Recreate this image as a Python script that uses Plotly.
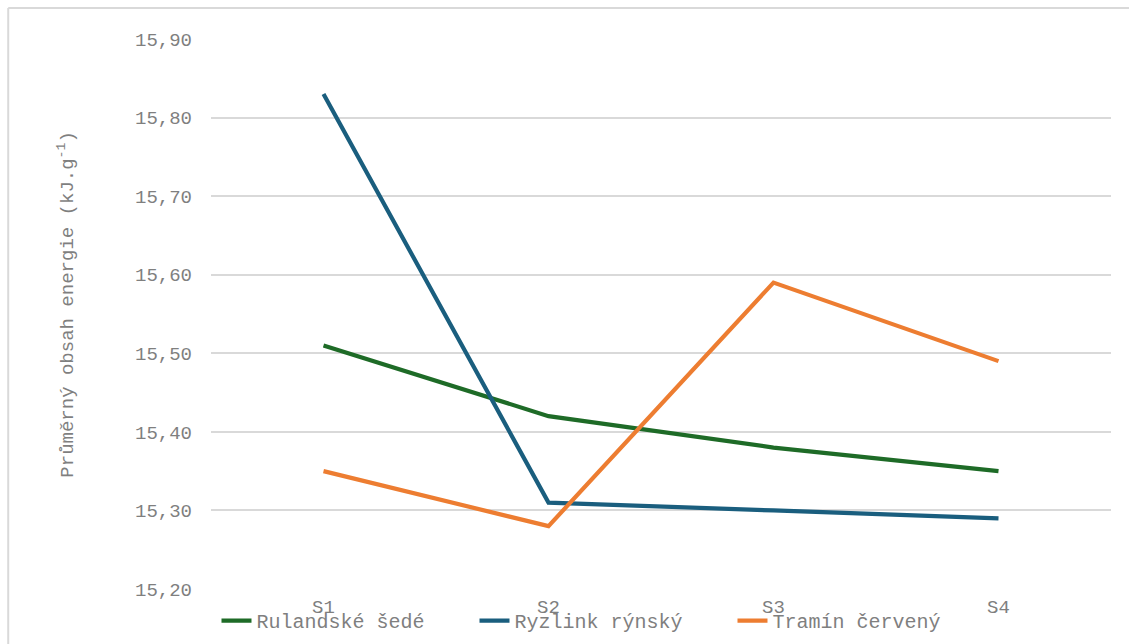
import plotly.graph_objects as go

categories = ["S1", "S2", "S3", "S4"]
rulandske = [15.51, 15.42, 15.38, 15.35]
ryzlink = [15.83, 15.31, 15.30, 15.29]
tramin = [15.35, 15.28, 15.59, 15.49]
y_ticks = [15.20, 15.30, 15.40, 15.50, 15.60, 15.70, 15.80, 15.90]
y_labels = ["15,20", "15,30", "15,40", "15,50", "15,60", "15,70", "15,80", "15,90"]

FONT = "Liberation Mono, Courier New, monospace"
GRAY = "#7f7f7f"

# plot area in page coords: x 210.5-1111.5, y 39-589
PL, PR, PT, PB = 210.5, 1111.5, 39, 589
W, H = 1129, 644
PW, PH = PR - PL, PB - PT

fig = go.Figure()
for name, vals, col in [
    ("Rulandské šedé", rulandske, "#1e6b27"),
    ("Ryzlink rýnský", ryzlink, "#1a5e7e"),
    ("Tramín červený", tramin, "#ed7d31"),
]:
    fig.add_trace(go.Scatter(x=categories, y=vals, name=name, mode="lines",
                             line=dict(color=col, width=4.2)))

bx = (7.5 - PL) / PW
by = (PB - 8) / PH
fig.update_layout(
    width=W, height=H,
    margin=dict(l=PL, r=W - PR, t=PT, b=H - PB, autoexpand=False),
    paper_bgcolor="white", plot_bgcolor="white",
    font=dict(family=FONT, size=19, color=GRAY),
    showlegend=True,
    legend=dict(orientation="h", x=(216 - PL) / PW, xanchor="left",
                y=-0.022, yanchor="top",
                font=dict(family=FONT, size=20, color=GRAY),
                bgcolor="rgba(0,0,0,0)", entrywidth=213, entrywidthmode="pixels",
                tracegroupgap=0),
    xaxis=dict(type="category", range=[-0.5, 3.5], showgrid=False, zeroline=False,
               showline=False, ticks="", ticklabelstandoff=4,
               tickfont=dict(family=FONT, size=19, color=GRAY)),
    yaxis=dict(range=[15.20, 15.90], tickvals=y_ticks, ticktext=y_labels,
               showgrid=True, gridcolor="#d9d9d9", gridwidth=1.5, zeroline=False,
               showline=False, ticks="", ticklabelstandoff=18,
               tickfont=dict(family=FONT, size=19, color=GRAY)),
    shapes=[
        dict(type="line", xref="paper", yref="paper", x0=bx, x1=1.3, y0=by, y1=by,
             line=dict(color="#d9d9d9", width=2), layer="below"),
        dict(type="line", xref="paper", yref="paper", x0=bx, x1=bx, y0=by, y1=-0.3,
             line=dict(color="#d9d9d9", width=2), layer="below"),
    ],
    annotations=[dict(text="Průměrný obsah energie (kJ.g<sup>-1</sup>)",
                      xref="paper", yref="paper", x=(65 - PL) / PW,
                      y=(PB - 304) / PH, textangle=-90, showarrow=False,
                      xanchor="center", yanchor="middle",
                      font=dict(family=FONT, size=19, color=GRAY))],
)

fig.write_html("out.html",
               config={"displayModeBar": False},
               post_script="document.body.style.margin='0';"
                           "document.body.style.overflow='hidden';")
